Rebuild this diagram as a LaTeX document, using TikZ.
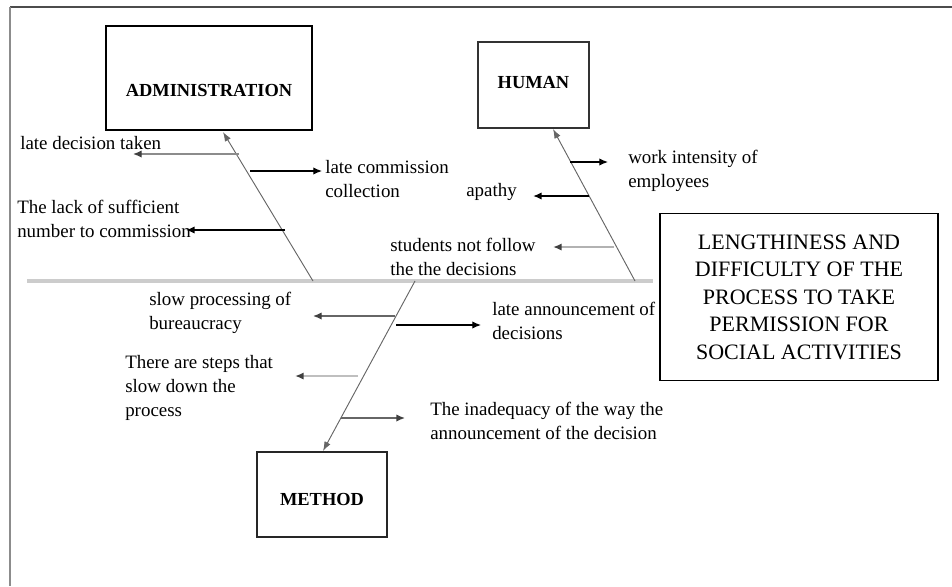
\documentclass[tikz,border=0pt]{standalone}
\usepackage{fontspec}
\setmainfont{Liberation Serif}
\usetikzlibrary{arrows.meta}
\begin{document}
\begin{tikzpicture}[x=0.75pt,y=-0.75pt,
  lbl/.style={anchor=west,align=left,inner sep=0pt,font=\rmfamily\fontsize{14.2}{18}\selectfont},
  boxtxt/.style={inner sep=0pt,font=\rmfamily\bfseries\fontsize{13.8}{16}\selectfont},
  catbox/.style={draw=black,line width=1.1pt,inner sep=0pt},
  bone/.style={draw=black!60,line width=0.7pt,-{Latex[length=7pt,width=5pt]}},
  garrow/.style={draw=black!45,line width=1pt,-{Latex[length=6.5pt,width=5.5pt,color=black!75]}},
  barrow/.style={draw=black,line width=0.9pt,-{Latex[length=6.5pt,width=5.5pt]}},
  spine/.style={draw=black!20,line width=2.4pt},
  frame/.style={draw=black!70,line width=1.4pt}]
\useasboundingbox (0,0) rectangle (952,586);
% frame
\coordinate (fTL) at (10,7);
\coordinate (fTR) at (952,7);
\coordinate (fBL) at (10,586);
\draw[frame] (fTR) -- (fTL);
\draw[draw=black!45,line width=1.1pt] (fTL) -- (fBL);
% spine
\coordinate (sL) at (27,281);
\coordinate (sR) at (653,281);
\draw[spine] (sL) -- (sR);
% boxes
\node[catbox,minimum width=154.5pt,minimum height=78pt] (admin) at (209,78) {};
\node[boxtxt] (admintxt) at (209,90) {ADMINISTRATION};
\node[catbox,draw=black!80,line width=0.9pt,minimum width=83.25pt,minimum height=64.5pt] (human) at (533.5,85) {};
\node[boxtxt] (humantxt) at (533.5,83) {HUMAN};
\node[catbox,draw=black!85,line width=0.9pt,minimum width=97.5pt,minimum height=63.75pt] (method) at (322,494.5) {};
\node[boxtxt] (methodtxt) at (322,499.5) {METHOD};
\node[catbox,minimum width=208.5pt,minimum height=125.25pt,align=center,
      font=\rmfamily\fontsize{16.5}{20.6}\selectfont] (effect) at (799,297)
  {LENGTHINESS AND\\DIFFICULTY OF THE\\PROCESS TO TAKE\\PERMISSION FOR\\SOCIAL ACTIVITIES};
% bones
\coordinate (a0) at (313,281);
\coordinate (aT) at (223,132);
\coordinate (h0) at (635,281);
\coordinate (hT) at (553,129);
\coordinate (m0) at (415,281);
\coordinate (mT) at (323,451);
\draw[bone] (a0) -- (aT);
\draw[bone] (h0) -- (hT);
\draw[bone] (m0) -- (mT);
% administration branches
\coordinate (a1s) at (239,154); \coordinate (a1e) at (133,154);
\coordinate (a2s) at (250,171); \coordinate (a2e) at (322,171);
\coordinate (a3s) at (285,230); \coordinate (a3e) at (186,230);
\draw[garrow] (a1s) -- (a1e);
\draw[barrow] (a2s) -- (a2e);
\draw[barrow,line width=1.2pt] (a3s) -- (a3e);
\node[lbl] (la1) at (20,143) {late decision taken};
\node[lbl] (la2) at (325,179) {late commission\\collection};
\node[lbl] (la3) at (17,219) {The lack of sufficient\\number to commission};
% human branches
\coordinate (h1s) at (570,162); \coordinate (h1e) at (608,162);
\coordinate (h2s) at (589,196); \coordinate (h2e) at (533,196);
\coordinate (h3s) at (614,247); \coordinate (h3e) at (553,247);
\draw[barrow] (h1s) -- (h1e);
\draw[barrow,line width=1.2pt] (h2s) -- (h2e);
\draw[garrow,draw=black!30,line width=1.3pt] (h3s) -- (h3e);
\node[lbl] (lh1) at (628,170.5) {work intensity of\\employees};
\node[lbl] (lh2) at (466,192) {apathy};
\node[lbl] (lh3) at (390,257) {students not follow\\the the decisions};
% method branches
\coordinate (m1s) at (395,316); \coordinate (m1e) at (313,316);
\coordinate (m2s) at (396,325); \coordinate (m2e) at (481,325);
\coordinate (m3s) at (358,376); \coordinate (m3e) at (295,376);
\coordinate (m4s) at (341,418); \coordinate (m4e) at (405,418);
\draw[garrow,draw=black!60] (m1s) -- (m1e);
\draw[barrow] (m2s) -- (m2e);
\draw[garrow,draw=black!25,line width=1.4pt] (m3s) -- (m3e);
\draw[garrow,draw=black!60] (m4s) -- (m4e);
\node[lbl] (lm1) at (149,313) {slow processing of\\bureaucracy};
\node[lbl] (lm2) at (492,321) {late announcement of\\decisions};
\node[lbl] (lm3) at (125,387.5) {There are steps that\\slow down the\\process};
\node[lbl] (lm4) at (430,421) {The inadequacy of the way the\\announcement of the decision};
\end{tikzpicture}
\end{document}
